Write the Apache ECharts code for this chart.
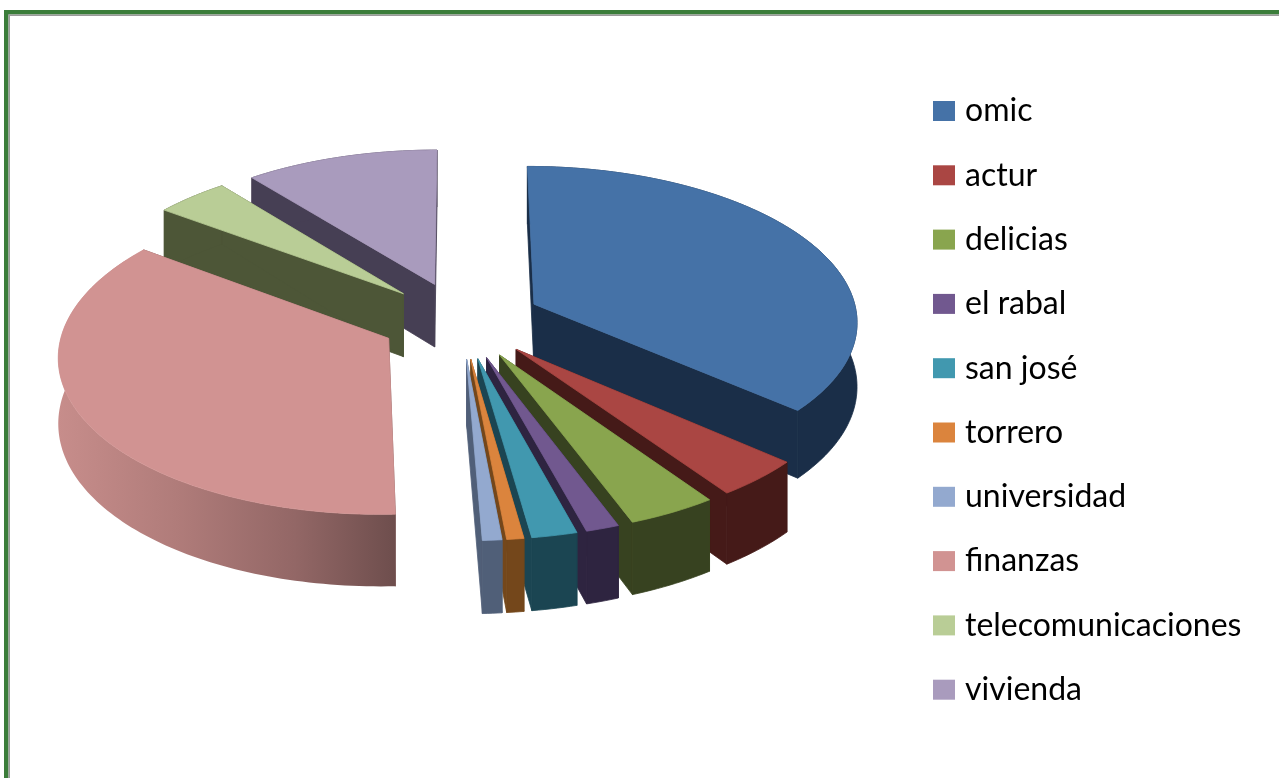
<!DOCTYPE html>
<html><head><meta charset="utf-8">
<style>html,body{margin:0;padding:0;background:#fff}#c{width:1279px;height:778px}</style>
<script src="https://cdn.jsdelivr.net/npm/echarts@6/dist/echarts.min.js"></script>
</head><body><div id="c"></div>
<script>
const categories = ['omic','actur','delicias','el rabal','san josé','torrero','universidad','finanzas','telecomunicaciones','vivienda'];
const shares = [36.4, 3.93, 3.95, 1.47, 2.0, 0.75, 0.85, 35.75, 4.1, 10.8];
const topColors = ['#4572A7','#AA4643','#89A54E','#71588F','#4198AF','#DB843D','#93A9CF','#D19392','#B9CD96','#A99BBD'];
const wallColors = ['#1A2E48','#451A18','#374220','#2E2440','#1B4552','#74471B','#505F78','#7A5554','#4D5637','#463F54'];
const drawRank = [1,2,3,4,5,6,7,3,2,1];

const total = shares.reduce((a,b)=>a+b,0);
const view = {cx:461, cy:320, rx:324, ry:154.5, k:0.10, depth:64, explode:0.25};
function project(u,v,d){
  const s = 1/(1+view.k*v);
  return [view.cx+view.rx*u*s, view.cy-view.ry*v*s+(d?view.depth*s:0)];
}
function makeRender(i){
  const before = shares.slice(0,i).reduce((a,b)=>a+b,0);
  return function(params, api){
    const val = api.value(0);
    const a0 = before/total*2*Math.PI, a1 = (before+val)/total*2*Math.PI, mid=(a0+a1)/2;
    const u0 = view.explode*Math.sin(mid), v0 = view.explode*Math.cos(mid);
    const steps = Math.max(4, Math.ceil((a1-a0)/0.02));
    const arc = d => { const p=[]; for(let j=0;j<=steps;j++){const a=a0+(a1-a0)*j/steps; p.push(project(u0+Math.sin(a),v0+Math.cos(a),d));} return p; };
    const top = arc(false), bot = arc(true);
    const apexT = project(u0,v0,false), apexB = project(u0,v0,true);
    const wall = wallColors[i];
    let outerFill = wall, outerStroke = wall;
    if(categories[i]==='finanzas'){
      outerFill = {type:'linear',x:0,y:0,x2:1,y2:0,colorStops:[
        {offset:0,color:'#C78D8B'},{offset:0.35,color:'#B07C7A'},{offset:0.7,color:'#936766'},{offset:1,color:'#6E4E4D'}]};
      outerStroke = null;
    }
    const poly = (pts,fill,stroke)=>({type:'polygon',shape:{points:pts},style:{fill:fill,stroke:stroke,lineWidth:stroke?0.8:0}});
    return {type:'group',children:[
      poly([apexT,top[0],bot[0],apexB],wall,wall),
      poly([apexT,top[steps],bot[steps],apexB],wall,wall),
      poly(top.concat(bot.slice().reverse()),outerFill,outerStroke),
      poly([apexT].concat(top),topColors[i],topColors[i])
    ]};
  };
}
const chart = echarts.init(document.getElementById('c'),null,{renderer:'canvas'});
chart.setOption({
  animation:false,
  backgroundColor:'#fff',
  legend:{
    orient:'vertical',left:933,top:95,padding:0,itemWidth:22,itemHeight:20,itemGap:32.3,icon:'rect',
    data:categories,selectedMode:false,
    textStyle:{fontFamily:'Lato',fontSize:32,color:'#000',padding:[0,0,0,5]}
  },
  graphic:[
    {type:'rect',shape:{x:4,y:10,width:1275,height:4.5},style:{fill:'#3B7D3A'},z:10},
    {type:'rect',shape:{x:4,y:10,width:4.5,height:768},style:{fill:'#3B7D3A'},z:10},
    {type:'rect',shape:{x:8.5,y:14.5,width:1270.5,height:1.5},style:{fill:'#9A9A9A'},z:10},
    {type:'rect',shape:{x:8.5,y:14.5,width:1.5,height:763.5},style:{fill:'#9A9A9A'},z:10}
  ],
  series:categories.map((n,i)=>({
    type:'custom',name:n,coordinateSystem:'none',z:drawRank[i],silent:true,
    itemStyle:{color:topColors[i]},
    data:[[shares[i]]],renderItem:makeRender(i)
  }))
});
</script></body></html>
